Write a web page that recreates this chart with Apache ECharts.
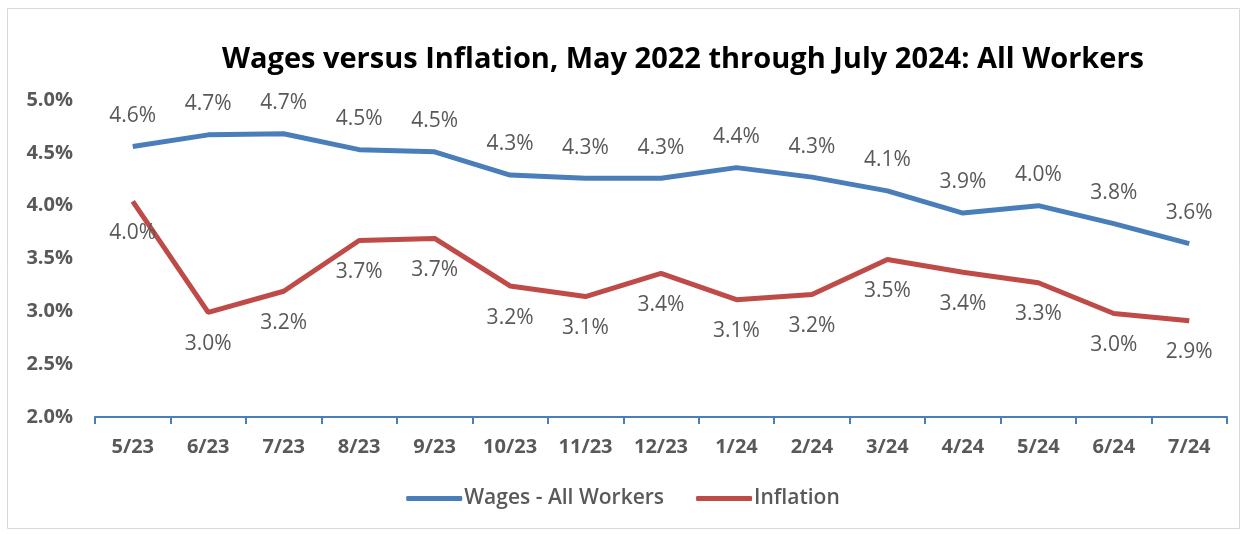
<!DOCTYPE html>
<html>
<head>
<meta charset="utf-8">
<script src="https://cdn.jsdelivr.net/npm/echarts@6/dist/echarts.min.js"></script>
<style>html,body{margin:0;padding:0;background:#fff;}#c{width:1246px;height:534px;}</style>
</head>
<body>
<div id="c"></div>
<script>
const categories = ['5/23','6/23','7/23','8/23','9/23','10/23','11/23','12/23','1/24','2/24','3/24','4/24','5/24','6/24','7/24'];
const wages = [4.56,4.67,4.68,4.53,4.51,4.29,4.26,4.26,4.36,4.27,4.14,3.93,4.00,3.83,3.64];
const inflation = [4.04,2.99,3.19,3.67,3.69,3.24,3.14,3.36,3.11,3.16,3.49,3.37,3.27,2.98,2.91];
const yTicks = [2.0,2.5,3.0,3.5,4.0,4.5,5.0];

const chart = echarts.init(document.getElementById('c'));
const font = 'Open Sans';
chart.setOption({
  animation: false,
  backgroundColor: '#fff',
  textStyle: {fontFamily: font},
  title: {
    text: 'Wages versus Inflation, May 2022 through July 2024: All Workers',
    left: 678, top: 40, textAlign: 'center',
    textStyle: {fontFamily: font, fontSize: 29, fontWeight: 'bold', color: '#000'}
  },
  graphic: [{
    type: 'rect', shape: {x: 7.5, y: 8.5, width: 1232, height: 520},
    style: {fill: 'none', stroke: '#d9d9d9', lineWidth: 1}, silent: true
  }],
  legend: {
    bottom: 20, left: 'center', itemWidth: 56, itemHeight: 5, itemGap: 32,
    icon: 'roundRect',
    textStyle: {fontFamily: font, fontSize: 21, color: '#595959', fontWeight: 600, padding: [0,0,0,-3]},
    data: ['Wages - All Workers', 'Inflation']
  },
  grid: {left: 95, right: 19, top: 100, bottom: 117, containLabel: false},
  xAxis: {
    type: 'category', data: categories, boundaryGap: true,
    axisLine: {lineStyle: {color: '#4a7ebb', width: 2}},
    axisTick: {show: true, length: 7, lineStyle: {color: '#4a7ebb', width: 2}},
    axisLabel: {fontFamily: font, fontSize: 20, fontWeight: 'bold', color: '#595959', margin: 20}
  },
  yAxis: {
    type: 'value', min: 2.0, max: 5.0, interval: 0.5,
    axisLine: {show: false}, axisTick: {show: false}, splitLine: {show: false},
    axisLabel: {fontFamily: font, fontSize: 20, fontWeight: 'bold', color: '#595959', margin: 22,
      formatter: v => v.toFixed(1) + '%'}
  },
  series: [{
    name: 'Wages - All Workers', type: 'line', data: wages,
    symbol: 'circle', symbolSize: 0.1, showSymbol: true,
    lineStyle: {color: '#4a7ebb', width: 5}, itemStyle: {color: '#4a7ebb'},
    label: {show: true, position: 'top', distance: 20, fontFamily: font, fontSize: 21, color: '#595959',
      formatter: p => p.value.toFixed(1) + '%'}
  }, {
    name: 'Inflation', type: 'line', data: inflation,
    symbol: 'circle', symbolSize: 0.1, showSymbol: true,
    lineStyle: {color: '#be4b48', width: 5}, itemStyle: {color: '#be4b48'},
    label: {show: true, position: 'bottom', distance: 21, fontFamily: font, fontSize: 21, color: '#595959',
      formatter: p => p.value.toFixed(1) + '%'}
  }]
});
</script>
</body>
</html>
